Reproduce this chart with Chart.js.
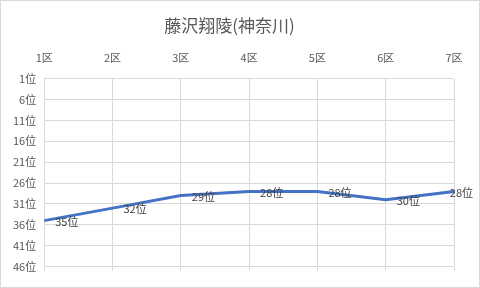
<!DOCTYPE html>
<html>
<head>
<meta charset="utf-8">
<script src="https://cdn.jsdelivr.net/npm/chart.js@4.4.1/dist/chart.umd.min.js"></script>
<style>
  html, body { margin: 0; padding: 0; background: #fff; }
  #wrap { width: 480px; height: 288px; }
</style>
</head>
<body>
<div id="wrap"><canvas id="c" width="480" height="288"></canvas></div>
<script>
// data
const sections = ["1区", "2区", "3区", "4区", "5区", "6区", "7区"];
const ranks = [35, 32, 29, 28, 28, 30, 28];
const rankTicks = [1, 6, 11, 16, 21, 26, 31, 36, 41, 46];

const FONT = "'Noto Sans CJK JP', 'Noto Sans', sans-serif";

// light frame round the whole chart
const framePlugin = {
  id: "framePlugin",
  beforeDraw: (chart) => {
    const ctx = chart.ctx;
    ctx.save();
    ctx.fillStyle = "#ffffff";
    ctx.fillRect(0, 0, chart.width, chart.height);
    ctx.strokeStyle = "#d9d9d9";
    ctx.lineWidth = 1;
    ctx.strokeRect(0.5, 0.5, chart.width - 1, chart.height - 1);
    ctx.restore();
  },
};

// "35位" style labels to the right of each point, kept inside the canvas
const labelPlugin = {
  id: "labelPlugin",
  afterDatasetsDraw: (chart) => {
    const ctx = chart.ctx;
    const meta = chart.getDatasetMeta(0);
    ctx.save();
    ctx.font = "11px " + FONT;
    ctx.fillStyle = "#404040";
    ctx.textAlign = "left";
    ctx.textBaseline = "middle";
    meta.data.forEach((pt, i) => {
      const txt = ranks[i] + "位";
      const w = ctx.measureText(txt).width;
      let x = pt.x + 11;
      if (x + w > chart.width - 7) x = chart.width - 7 - w;
      ctx.fillText(txt, x, pt.y + 1);
    });
    ctx.restore();
  },
};

new Chart(document.getElementById("c"), {
  type: "line",
  data: {
    labels: sections,
    datasets: [
      {
        data: ranks,
        borderColor: "#4472c4",
        borderWidth: 3,
        pointRadius: 0,
        tension: 0,
        fill: false,
      },
    ],
  },
  options: {
    responsive: false,
    animation: false,
    layout: { padding: { top: 8, left: 5, right: 26, bottom: 3 } },
    plugins: {
      legend: { display: false },
      tooltip: { enabled: false },
      title: {
        display: true,
        text: "藤沢翔陵(神奈川)",
        color: "#595959",
        font: { family: FONT, size: 17, weight: "normal" },
        padding: { top: 7, bottom: 2 },
      },
    },
    scales: {
      x: {
        position: "top",
        offset: false,
        ticks: { color: "#595959", font: { family: FONT, size: 11 }, padding: 14, maxRotation: 0 },
        grid: { color: "#d9d9d9", drawTicks: false },
        border: { display: false },
      },
      x2: {
        position: "bottom",
        offset: false,
        labels: sections,
        ticks: { display: true, callback: () => "", padding: 0 },
        grid: { color: "#d9d9d9", tickLength: 4, drawOnChartArea: false },
        border: { display: false },
      },
      y: {
        reverse: true,
        min: 1,
        max: 46,
        afterBuildTicks: (axis) => {
          axis.ticks = rankTicks.map((v) => ({ value: v }));
        },
        ticks: {
          color: "#595959",
          font: { family: FONT, size: 11 },
          padding: 8,
          callback: (v) => v + "位",
        },
        grid: { color: "#d9d9d9", drawTicks: false },
        border: { display: false },
      },
    },
  },
  plugins: [framePlugin, labelPlugin],
});
</script>
</body>
</html>
